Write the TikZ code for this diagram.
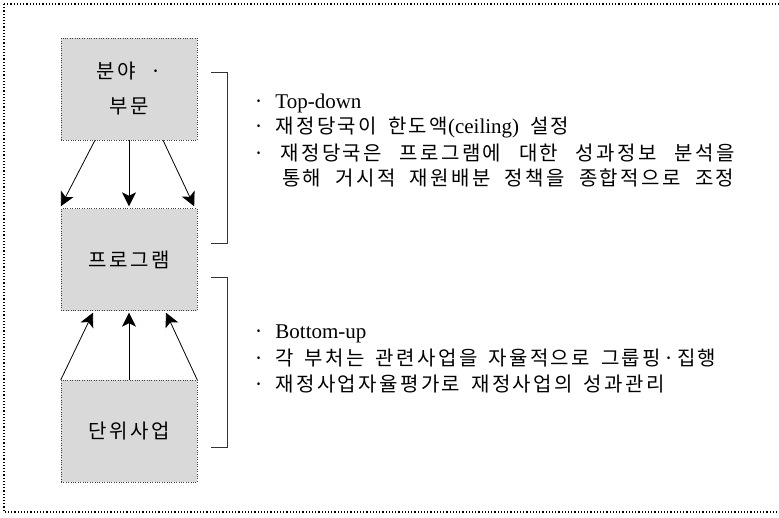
\documentclass[tikz,border=0pt]{standalone}
\usepackage{fontspec}
\setmainfont{Liberation Serif}
\newfontfamily\kr[LetterSpace=12,WordSpace=1.6]{Noto Sans CJK KR}
\usetikzlibrary{arrows.meta,calc}
\tikzset{
  box/.style={draw=black!75, dotted, fill=black!15, minimum width=136pt, minimum height=102pt, inner sep=0pt, font=\kr\fontsize{20pt}{35pt}\selectfont, align=center},
  conn/.style={-{Stealth[length=14pt,width=14pt,inset=3.5pt]}, line width=0.8pt},
  brk/.style={line width=1pt, black!80},
  txt/.style={anchor=west, inner sep=0pt, font=\kr\fontsize{20pt}{25pt}\selectfont},
}
\newcommand\lt[1]{{\rmfamily\fontsize{21pt}{25pt}\selectfont #1}}
\begin{document}
\begin{tikzpicture}[x=1pt,y=-1pt]
\useasboundingbox (0,0) rectangle (779,517);
\draw[dotted, line width=1.2pt] (4,4) -- (4,512) -- (790,512);
\draw[dotted, line width=1.2pt] (4,4) -- (790,4);
\node[box] (top) at (129,89) {분야 \,·\\부문};
\node[box] (mid) at (129,259.5) {프로그램};
\node[box] (bot) at (129,431) {단위사업};
% top-down arrows
\draw[conn] ([xshift=-34pt]top.south) -- ([yshift=2pt]mid.north west);
\draw[conn] (top.south) -- ([yshift=2pt]mid.north);
\draw[conn] ([xshift=34pt]top.south) -- ([yshift=2pt,xshift=-3pt]mid.north east);
% bottom-up arrows
\draw[conn] (bot.north west) -- ([xshift=-36pt,yshift=-2pt]mid.south);
\draw[conn] (bot.north) -- ([yshift=-2pt]mid.south);
\draw[conn] (bot.north east) -- ([xshift=37pt,yshift=-2pt]mid.south);
% brackets
\coordinate (b1a) at (211,72);
\coordinate (b1b) at (227,72);
\coordinate (b1c) at (227,243);
\coordinate (b1d) at (211,243);
\draw[brk] (b1a) -- (b1b) -- (b1c) -- (b1d);
\coordinate (b2a) at (211,277);
\coordinate (b2b) at (227,277);
\coordinate (b2c) at (227,447);
\coordinate (b2d) at (211,447);
\draw[brk] (b2a) -- (b2b) -- (b2c) -- (b2d);
% upper text
\node[txt] (t1) at (253,103) {·\hspace{11pt}\lt{Top-down}};
\node[txt] (t2) at (253,127) {·\hspace{11pt}재정당국이 한도액\lt{(ceiling)} 설정};
\node[txt] (t3) at (253,153) {·\hspace{16pt}\makebox[454pt][s]{재정당국은 프로그램에 대한 성과정보 분석을}};
\node[txt] (t4) at (282,178) {\makebox[452pt][s]{통해 거시적 재원배분 정책을 종합적으로 조정}};
% lower text
\node[txt] (u1) at (253,334) {·\hspace{11pt}\lt{Bottom-up}};
\node[txt] (u2) at (253,358) {·\hspace{11pt}각 부처는 관련사업을 자율적으로 그룹핑·집행};
\node[txt] (u3) at (253,384) {·\hspace{11pt}재정사업자율평가로 재정사업의 성과관리};
\end{tikzpicture}
\end{document}
